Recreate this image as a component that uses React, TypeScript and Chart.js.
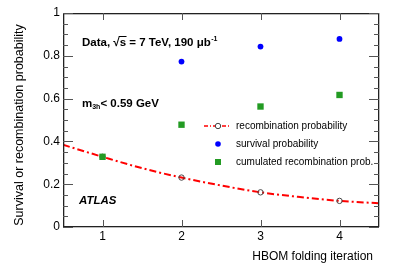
import React, { useEffect, useRef } from "react";
import { Chart, registerables } from "chart.js";

Chart.register(...registerables);

const iterations = [1, 2, 3, 4];
const recombination = [0.328, 0.231, 0.162, 0.122];
const survival: (number | null)[] = [null, 0.773, 0.843, 0.879];
const cumulated = [0.328, 0.478, 0.563, 0.617];
const fitX = [0.5, 1, 1.5, 2, 2.5, 3, 3.5, 4, 4.5];
const fitY = [0.384, 0.328, 0.275, 0.231, 0.194, 0.162, 0.14, 0.122, 0.111];
const yTicks = [0, 0.2, 0.4, 0.6, 0.8, 1];
const legendLabels = ["recombination probability", "survival probability", "cumulated recombination prob."];

const RED = "#ff0000";
const BLUE = "#0000ff";
const GREEN = "#239b23";
const FONT = "'Liberation Sans', Arial, Helvetica, sans-serif";

const decorPlugin = {
  id: "decor",
  afterDraw(chart: any) {
    const ctx = chart.ctx as CanvasRenderingContext2D;
    const { left, right, top, bottom } = chart.chartArea;
    const xs = chart.scales.x;
    const ys = chart.scales.y;
    const L = Math.round(left);
    const R = Math.round(right);
    const T = Math.round(top);
    const B = Math.round(bottom);
    ctx.save();
    ctx.setLineDash([]);
    ctx.globalAlpha = 1;
    // frame
    ctx.fillStyle = "#222";
    ctx.fillRect(L, T, R - L, 1.3);
    ctx.fillRect(L, B - 1, R - L, 1.3);
    ctx.fillRect(L, T, 1.3, B - T);
    ctx.fillRect(R - 1, T, 1.3, B - T);
    // ticks
    ctx.fillStyle = "#555";
    for (let k = 0; k <= 20; k++) {
      const v = k * 0.05;
      const py = Math.round(ys.getPixelForValue(v));
      const major = k % 4 === 0;
      const len = major ? 10 : 5;
      ctx.fillRect(L, py, len, 1);
      ctx.fillRect(R - len, py, len, 1);
    }
    for (const v of iterations) {
      const px = Math.round(xs.getPixelForValue(v));
      ctx.fillRect(px, B - 7, 1, 7);
      ctx.fillRect(px, T, 1, 7);
    }

    // axis titles
    ctx.fillStyle = "#000";
    ctx.font = `12px ${FONT}`;
    ctx.textAlign = "right";
    ctx.textBaseline = "alphabetic";
    ctx.fillText("HBOM folding iteration", R - 6, 260);
    ctx.save();
    ctx.translate(23, 125);
    ctx.rotate(-Math.PI / 2);
    ctx.textAlign = "center";
    ctx.font = `12.5px ${FONT}`;
    ctx.fillText("Survival or recombination probability", 0, 0);
    ctx.restore();

    // annotations
    ctx.textAlign = "left";
    ctx.strokeStyle = "#000";
    ctx.font = `bold 11.5px ${FONT}`;
    const t1 = "Data, ";
    let x = 82;
    const y1 = 46;
    ctx.fillText(t1, x, y1);
    x += ctx.measureText(t1).width;
    const sq = "√";
    ctx.fillText(sq, x, y1);
    x += ctx.measureText(sq).width;
    const sW = ctx.measureText("s").width;
    ctx.fillText("s", x, y1);
    ctx.fillRect(x - 1, y1 - 10, sW + 1.5, 1);
    x += sW;
    const t2 = " = 7 TeV, 190 μb";
    ctx.fillText(t2, x, y1);
    x += ctx.measureText(t2).width;
    ctx.font = `bold 7px ${FONT}`;
    ctx.fillText("-1", x + 0.5, y1 - 5);

    ctx.font = `bold 11.5px ${FONT}`;
    const y2 = 107;
    ctx.fillText("m", 82, y2);
    let x2 = 82 + ctx.measureText("m").width;
    ctx.font = `bold 7px ${FONT}`;
    ctx.fillText("3h", x2, y2 + 2);
    x2 += ctx.measureText("3h").width;
    ctx.font = `bold 11.5px ${FONT}`;
    ctx.fillText("< 0.59 GeV", x2, y2);

    ctx.font = `italic bold 11.5px ${FONT}`;
    ctx.fillText("ATLAS", 79, 204);

    // legend
    const ly = [126, 144, 162];
    ctx.font = `10px ${FONT}`;
    ctx.textBaseline = "middle";
    legendLabels.forEach((lab, i) => ctx.fillText(lab, 236, ly[i]));
    ctx.strokeStyle = RED;
    ctx.lineWidth = 1.5;
    ctx.setLineDash([4, 2, 1, 2]);
    ctx.beginPath();
    ctx.moveTo(204, ly[0]);
    ctx.lineTo(230, ly[0]);
    ctx.stroke();
    ctx.setLineDash([]);
    ctx.fillStyle = "#fff";
    ctx.strokeStyle = "#444";
    ctx.lineWidth = 1;
    ctx.beginPath();
    ctx.arc(218, ly[0], 2.7, 0, Math.PI * 2);
    ctx.fill();
    ctx.stroke();
    ctx.fillStyle = BLUE;
    ctx.beginPath();
    ctx.arc(218, ly[1], 2.8, 0, Math.PI * 2);
    ctx.fill();
    ctx.fillStyle = GREEN;
    ctx.fillRect(215, ly[2] - 3, 6, 6);
    ctx.restore();
  },
};

export default function App() {
  const ref = useRef<HTMLCanvasElement>(null);
  useEffect(() => {
    if (!ref.current) return;
    const chart = new Chart(ref.current, {
      type: "scatter",
      data: {
        datasets: [
          {
            label: "cumulated",
            data: iterations.map((v, i) => ({ x: v, y: cumulated[i] })),
            pointStyle: "rect",
            pointRadius: 4.5,
            backgroundColor: GREEN,
            borderColor: GREEN,
            borderWidth: 0,
          },
          {
            label: "survival",
            data: iterations
              .map((v, i) => ({ x: v, y: survival[i] }))
              .filter((p) => p.y !== null) as any,
            pointRadius: 2.9,
            backgroundColor: BLUE,
            borderColor: BLUE,
            borderWidth: 0,
          },
          {
            label: "recombination",
            data: iterations.map((v, i) => ({ x: v, y: recombination[i] })),
            pointRadius: 2.7,
            backgroundColor: "rgba(255,255,255,0)",
            borderColor: "#444",
            borderWidth: 1,
          },
          {
            label: "fit",
            type: "line" as any,
            data: fitX.map((v, i) => ({ x: v, y: fitY[i] })),
            pointRadius: 0,
            borderColor: RED,
            borderWidth: 2,
            borderDash: [7, 3, 2, 3],
            cubicInterpolationMode: "monotone",
            fill: false,
          } as any,
        ],
      },
      options: {
        responsive: false,
        animation: false,
        layout: { padding: { top: 13, right: 20, left: 0, bottom: 0 } },
        plugins: { legend: { display: false }, tooltip: { enabled: false } },
        scales: {
          x: {
            type: "linear",
            min: 0.5,
            max: 4.5,
            afterBuildTicks: (s: any) => {
              s.ticks = iterations.map((v) => ({ value: v }));
            },
            afterFit: (s: any) => {
              s.height = 43;
            },
            grid: { display: false, drawTicks: false },
            border: { display: false },
            ticks: { color: "#000", font: { family: FONT, size: 12 }, padding: 2 },
          },
          y: {
            type: "linear",
            min: 0,
            max: 1,
            afterBuildTicks: (s: any) => {
              s.ticks = yTicks.map((v) => ({ value: v }));
            },
            afterFit: (s: any) => {
              s.width = 63;
            },
            grid: { display: false, drawTicks: false },
            border: { display: false },
            ticks: {
              color: "#000",
              font: { family: FONT, size: 12 },
              padding: 3,
              callback: (v: any) => String(v),
            },
          },
        },
      },
      plugins: [decorPlugin],
    });
    return () => chart.destroy();
  }, []);
  return (
    <div style={{ position: "absolute", left: 0, top: 0, width: 399, height: 270, background: "#fff" }}>
      <canvas ref={ref} width={399} height={270} style={{ display: "block" }} />
    </div>
  );
}
